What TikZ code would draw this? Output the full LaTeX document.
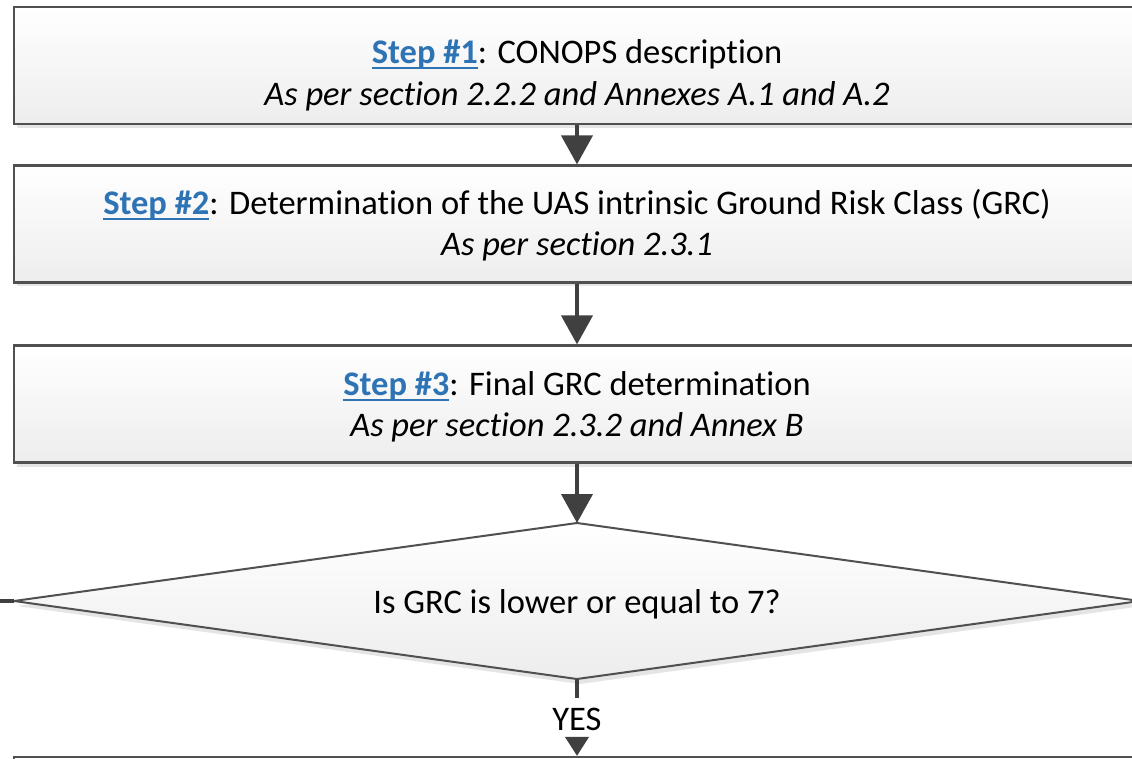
\documentclass[tikz,border=0pt]{standalone}
\usepackage{fontspec}
\setmainfont{Carlito}[Ligatures=NoCommon]
\usetikzlibrary{arrows.meta,shadows}
\definecolor{stepblue}{HTML}{2E74B5}
\definecolor{edgegray}{HTML}{505050}
\definecolor{arrowgray}{HTML}{404040}
\definecolor{fillbot}{HTML}{EDEDED}
\newsavebox{\stepbx}
\newcommand{\stepref}[1]{\sbox{\stepbx}{\color{stepblue}\textbf{#1}}{\color{stepblue}\rlap{\rule[-5.5pt]{\wd\stepbx}{2pt}}}\usebox{\stepbx}}
\tikzset{
  stepbox/.style={rectangle, draw=edgegray, line width=2.2pt, top color=white, bottom color=fillbot,
    minimum width=1126pt, minimum height=117pt, inner sep=0pt,
    drop shadow={shadow xshift=3pt, shadow yshift=-4pt, fill=black!10, opacity=1}},
  txt/.style={anchor=base, inner sep=0pt, font=\fontsize{34.5}{41}\selectfont},
  flow/.style={draw=arrowgray, line width=4pt, -{Triangle[width=31pt,length=29pt]}},
  yesflow/.style={draw=arrowgray, line width=4pt, -{Triangle[width=23pt,length=19pt]}},
  plainline/.style={draw=arrowgray, line width=4pt},
}
\begin{document}
\begin{tikzpicture}[x=1pt,y=-1pt]
\useasboundingbox (0,0) rectangle (1132,759);
\clip (0,0) rectangle (1132,759);
% boxes
\node[stepbox] (b1) at (577,65.5) {};
\node[stepbox] (b2) at (577,224) {};
\node[stepbox] (b3) at (577,404) {};
\node[stepbox] (b4) at (577,815.5) {};
% texts
\node[txt] (t1a) at (577,64) {\stepref{Step \#1}: CONOPS description};
\node[txt] (t1b) at (577,106) {\itshape As per section 2.2.2 and Annexes A.1 and A.2};
\node[txt] (t2a) at (577,215) {\stepref{Step \#2}: Determination of the UAS intrinsic Ground Risk Class (GRC)};
\node[txt] (t2b) at (577,256) {\itshape As per section 2.3.1};
\node[txt] (t3a) at (577,395) {\stepref{Step \#3}: Final GRC determination};
\node[txt] (t3b) at (577,436) {\itshape As per section 2.3.2 and Annex B};
% diamond
\coordinate (dtop) at (577,523);
\coordinate (dbot) at (577,679);
\coordinate (dleft) at (14,601);
\coordinate (dright) at (1140,601);
\fill[black!10] ([shift={(3,5)}]dtop) -- ([shift={(3,5)}]dright) -- ([shift={(3,5)}]dbot) -- ([shift={(3,5)}]dleft) -- cycle;
\path[draw=edgegray, line width=2pt, top color=white, bottom color=fillbot] (dtop) -- (dright) -- (dbot) -- (dleft) -- cycle;
\node[txt] (dq) at (577,613) {Is GRC is lower or equal to 7?};
\node[txt, anchor=center, inner xsep=2pt, inner ysep=9pt] (yes) at (577,719) {YES};
\coordinate (stub) at (0,601);
% connectors
\draw[flow] (b1.south) -- (b2.north);
\draw[flow] (b2.south) -- (b3.north);
\draw[flow] (b3.south) -- (dtop);
\draw[plainline] (dbot) -- (yes.north);
\draw[yesflow] (yes.south) -- (b4.north);
\draw[plainline] (dleft) -- (stub);
\end{tikzpicture}
\end{document}
